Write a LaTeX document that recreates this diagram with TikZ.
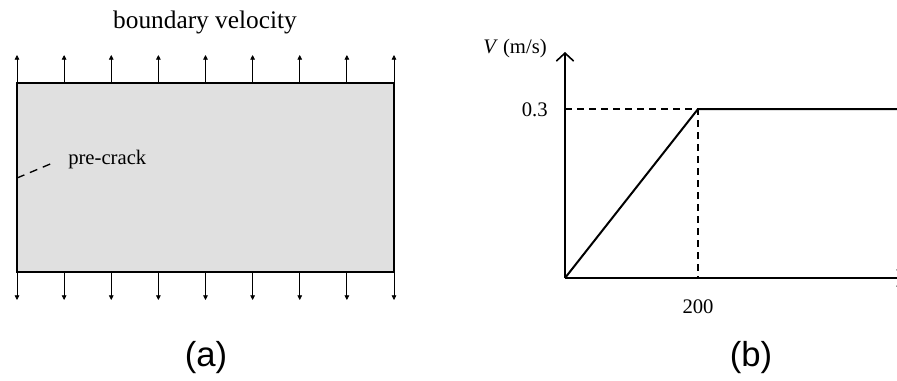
\documentclass[tikz,border=0pt]{standalone}
\usepackage{fontspec}
\setmainfont{Liberation Serif}
\newfontfamily\panelfont{Liberation Sans}
\usetikzlibrary{arrows.meta}
\tikzset{
  vel/.style={line width=0.6pt,-{Triangle[length=3.5pt,width=3.5pt]}},
  axis/.style={line width=1.5pt,-{Straight Barb[length=6pt,width=13pt,line width=1.2pt]}},
  guide/.style={line width=0.9pt,dash pattern=on 5.5pt off 3.5pt},
  lab/.style={font=\fontsize{15.5}{18}\selectfont,inner sep=0pt},
  panel/.style={font=\panelfont\fontsize{26}{30}\selectfont,inner sep=0pt},
}
\begin{document}
\begin{tikzpicture}[x=0.75pt,y=-0.75pt]
\useasboundingbox (0,0) rectangle (897,380);
% (a) plate with boundary velocities
\draw[line width=0.9pt,fill=black!12] (17,83) rectangle (394,272);
\foreach \i in {0,...,8}{
  \draw[vel] (17+47.125*\i,83) -- ++(0,-28);
  \draw[vel] (17+47.125*\i,272) -- ++(0,28);
}
\node[lab,font=\fontsize{19}{22}\selectfont] (bv) at (205,22) {boundary velocity};
\coordinate (crack) at (17,178);
\coordinate (crackend) at (55,162);
\node[lab,anchor=west] (pc) at (68,160) {pre-crack};
\draw[line width=1pt,dash pattern=on 6pt off 4.5pt] (crack) -- (crackend);
\node[panel] (pa) at (206,358) {(a)};
% (b) velocity history
\coordinate (O) at (565,278);
\coordinate (K) at (698,109);
\coordinate (ytop) at (565,52);
\coordinate (xend) at (906,278);
\draw[axis] (O) -- (ytop);
\draw[axis] (O) -- (xend);
\draw[guide] (O |- K) -- (K) -- (K |- O);
\draw[line width=1.5pt] (O) -- (K) -- (900,109);
\node[lab,anchor=east] (v03) at (548,110) {0.3};
\node[lab,anchor=east] (vl) at (547,49) {\textit{V} (m/s)};
\node[lab] (t200) at (698,307) {200};
\node[panel] (pb) at (751,358) {(b)};
\end{tikzpicture}
\end{document}
